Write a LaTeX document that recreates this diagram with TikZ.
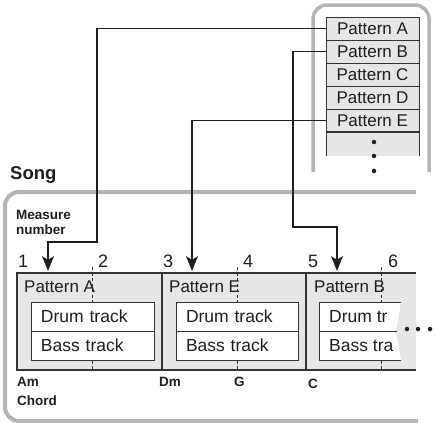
\documentclass[tikz,border=0pt]{standalone}
\usepackage{fontspec}
\setmainfont{Liberation Sans}
\usetikzlibrary{arrows.meta}
\definecolor{framegrey}{HTML}{B4B4B4}
\definecolor{fillgrey}{HTML}{E6E6E6}
\definecolor{edge}{HTML}{333333}
\definecolor{ink}{HTML}{1E1E1E}
\begin{document}
\begin{tikzpicture}[x=1pt,y=-1pt,
  frame/.style={draw=framegrey,line width=3.5pt,rounded corners=14pt},
  prow/.style={draw=edge,fill=fillgrey,line width=0.9pt,minimum width=93pt,minimum height=23pt,inner sep=0pt,font=\fontsize{17}{17}\selectfont,text=ink},
  mbox/.style={draw=edge,fill=fillgrey,line width=1.1pt,minimum width=145pt,minimum height=97pt,inner sep=0pt},
  track/.style={draw=edge,fill=white,line width=1pt,minimum height=29pt,text width=103pt,inner xsep=10pt,inner ysep=0pt,align=left,font=\fontsize{17.5}{17.5}\selectfont,text=ink},
  plabel/.style={anchor=west,inner sep=0pt,font=\fontsize{17}{17}\selectfont,text=ink},
  num/.style={anchor=west,inner sep=0pt,font=\fontsize{18}{18}\selectfont,text=ink},
  blabel/.style={anchor=west,inner sep=0pt,font=\bfseries\fontsize{13.5}{15}\selectfont,text=ink,align=left},
  conn/.style={draw=ink,line width=1.5pt},
  arr/.style={conn,-{Stealth[length=15pt,width=12pt,inset=4pt]}},
  bar/.style={draw=edge,line width=1pt,dash pattern=on 3pt off 2.5pt},
  dot/.style={fill=ink,circle,inner sep=0pt,minimum size=4.5pt}]
\useasboundingbox (0,0) rectangle (437,423);

% pattern list frame
\draw[frame] (313,172) -- (313,5) -- (429,5) -- (429,172);
\fill[fillgrey] (326,132) rectangle (419,156);
\draw[edge,line width=0.9pt] (326,156) -- (326,132) -- (419,132) -- (419,156);
\node[prow] (pA) at (372.5,28.5) {Pattern A};
\node[prow] (pB) at (372.5,51.5) {Pattern B};
\node[prow] (pC) at (372.5,74.5) {Pattern C};
\node[prow] (pD) at (372.5,97.5) {Pattern D};
\node[prow] (pE) at (372.5,120.5) {Pattern E};
\draw[edge,line width=1.6pt] (326,132) -- (419,132);
\node[dot] (d1) at (374,142) {};
\node[dot] (d2) at (374,156) {};
\node[dot] (d3) at (374,171) {};

% song frame
\node[anchor=west,inner sep=0pt,font=\bfseries\fontsize{18.5}{18.5}\selectfont,text=ink] (song) at (10,175) {Song};
\draw[frame,line width=4pt] (416,192) -- (5,192) -- (5,421) -- (418,421);
\node[blabel] (meas) at (16,222) {Measure\\number};

% measure numbers
\node[num] (n1) at (18,261) {1};
\node[num] (n2) at (98,261) {2};
\node[num] (n3) at (163,261) {3};
\node[num] (n4) at (243,261) {4};
\node[num] (n5) at (308,261) {5};
\node[num] (n6) at (388,261) {6};

% measure boxes
\node[mbox] (b1) at (89.5,321.5) {};
\node[mbox,minimum width=144pt] (b2) at (234,321.5) {};
\fill[fillgrey] (306,273) rectangle (416,370);
\draw[edge,line width=1.1pt] (416,273) -- (306,273) -- (306,370) -- (416,370);
\draw[edge,line width=1.8pt] (162,273) -- (162,370);
\draw[edge,line width=1.8pt] (306,273) -- (306,370);

% bar lines
\draw[bar] (92,267) -- (92,371);
\draw[bar] (237,267) -- (237,371);
\draw[bar] (381,267) -- (381,371);

% box labels
\node[plabel] (l1) at (24,287) {Pattern A};
\node[plabel] (l2) at (169,287) {Pattern E};
\node[plabel] (l3) at (314,287) {Pattern B};

% tracks
\node[track] (t1d) at (92.5,316.5) {Drum track};
\node[track] (t1b) at (92.5,345.5) {Bass track};
\node[track,text width=102pt] (t2d) at (237,316.5) {Drum track};
\node[track,text width=102pt] (t2b) at (237,345.5) {Bass track};
\fill[white] (319,302) -- (401,302) -- (396,331) -- (401,360) -- (319,360) -- cycle;
\draw[edge,line width=1pt] (401,302) -- (319,302) -- (319,360) -- (401,360);
\draw[edge,line width=1pt] (319,331) -- (397,331);
\node[plabel,font=\fontsize{17.5}{17.5}\selectfont] (t3d) at (329,316.5) {Drum tr};
\node[plabel,font=\fontsize{17.5}{17.5}\selectfont] (t3b) at (329,345.5) {Bass tra};
\node[dot] (e1) at (407,329) {};
\node[dot] (e2) at (418,329) {};
\node[dot] (e3) at (430,329) {};

% chord labels
\node[blabel] (am) at (17,382) {Am};
\node[blabel] (chord) at (17,401) {Chord};
\node[blabel] (dm) at (159,382) {Dm};
\node[blabel] (g) at (234,382) {G};
\node[blabel] (c) at (308,384) {C};

% connectors
\coordinate (m1) at (48,271);
\coordinate (m3) at (192,271);
\coordinate (m5) at (337,271);
\draw[arr] (pA.west) -- (97,28.5) -- (97,242) -- (48,242) -- (m1);
\draw[arr] (pE.west) -- (192,120.5) -- (m3);
\draw[arr] (pB.west) -- (293,51.5) -- (293,227) -- (337,227) -- (m5);
\end{tikzpicture}
\end{document}
